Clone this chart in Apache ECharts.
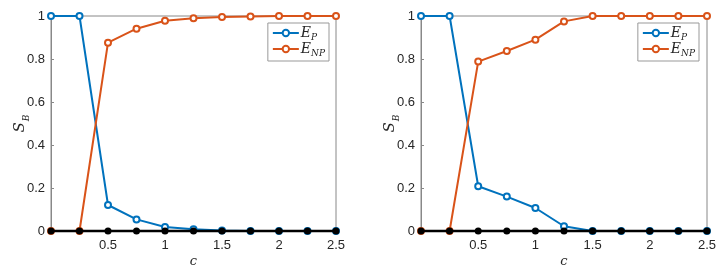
<!DOCTYPE html>
<html><head><meta charset="utf-8">
<script src="https://cdn.jsdelivr.net/npm/echarts@6/dist/echarts.min.js"></script>
<style>html,body{margin:0;padding:0;background:#fff}#c{width:721px;height:274px}</style>
</head><body><div id="c"></div>
<script>
const cValues = [0, 0.25, 0.5, 0.75, 1, 1.25, 1.5, 1.75, 2, 2.25, 2.5];
const xTicks = [0.5, 1, 1.5, 2, 2.5];
const yTicks = [0, 0.2, 0.4, 0.6, 0.8, 1];
const leftEP  = [1, 1, 0.121, 0.054, 0.019, 0.008, 0.002, 0, 0, 0, 0];
const leftENP = [0, 0, 0.876, 0.941, 0.978, 0.989, 0.995, 0.998, 1, 1, 1];
const rightEP  = [1, 1, 0.208, 0.16, 0.107, 0.022, 0, 0, 0, 0, 0];
const rightENP = [0, 0, 0.788, 0.837, 0.89, 0.975, 1, 1, 1, 1, 1];
const zeroLine = [0, 0, 0, 0, 0, 0, 0, 0, 0, 0, 0];

const BLUE = '#0072BD', ORANGE = '#D95319';
const tickFont = {color: '#262626', fontSize: 13, fontFamily: 'Liberation Sans, Arial, sans-serif'};
const pair = a => cValues.map((c, i) => [c, a[i]]);

function xAxis(gi) {
  return {
    type: 'value', gridIndex: gi, min: 0, max: 2.5, interval: 0.5,
    axisLine: {lineStyle: {color: '#888', width: 1}},
    axisTick: {inside: true, length: 3, lineStyle: {color: '#888'}},
    splitLine: {show: false},
    axisLabel: Object.assign({margin: 8, formatter: v => v === 0 ? '' : String(v)}, tickFont),
    name: '{c|c}', nameLocation: 'middle', nameGap: 24, nameMoveOverlap: false,
    nameTextStyle: {rich: {c: {fontFamily: 'DejaVu Serif', fontStyle: 'italic', fontSize: 13, color: '#262626'}}}
  };
}
function yAxis(gi) {
  return {
    type: 'value', gridIndex: gi, min: 0, max: 1, interval: 0.2,
    axisLine: {show: true, lineStyle: {color: '#888', width: 1}},
    axisTick: {show: true, inside: true, length: 3, lineStyle: {color: '#888'}},
    splitLine: {show: false},
    axisLabel: Object.assign({margin: 6, formatter: v => String(Math.round(v * 10) / 10)}, tickFont),
    name: '{s|S}{b|B}', nameLocation: 'middle', nameGap: 20, nameRotate: 90, nameMoveOverlap: false,
    nameTextStyle: {rich: {
      s: {fontFamily: 'DejaVu Serif', fontStyle: 'italic', fontSize: 15, color: '#262626', lineHeight: 18, verticalAlign: 'top'},
      b: {fontFamily: 'DejaVu Serif', fontStyle: 'italic', fontSize: 9, color: '#262626', lineHeight: 10, padding: [9, 0, 0, 1], verticalAlign: 'top'}
    }}
  };
}
const legendRich = {
  a: {fontFamily: 'DejaVu Serif', fontStyle: 'italic', fontSize: 14, color: '#262626', lineHeight: 14, verticalAlign: 'top'},
  b: {fontFamily: 'DejaVu Serif', fontStyle: 'italic', fontSize: 9, color: '#262626', lineHeight: 9, padding: [7, 0, 0, 0], verticalAlign: 'top'}
};
function legend(right) {
  return {
    orient: 'vertical', right: right, top: 23,
    data: ['EP', 'ENP'],
    backgroundColor: '#fff', borderColor: '#999', borderWidth: 1, borderRadius: 0,
    padding: [3, 4, 3, 4], itemGap: 0, itemWidth: 26, itemHeight: 8,
    formatter: n => n === 'EP' ? '{a|E}{b|P}' : '{a|E}{b|NP}',
    textStyle: {rich: legendRich, padding: [0, 0, 0, -3]}
  };
}
function series(gi, ep, enp) {
  const base = {type: 'line', xAxisIndex: gi, yAxisIndex: gi, animation: false, clip: false};
  return [
    Object.assign({}, base, {name: 'EP', data: pair(ep), color: BLUE, lineStyle: {width: 2, color: BLUE},
      symbol: 'emptyCircle', symbolSize: 6, itemStyle: {color: BLUE, borderColor: BLUE, borderWidth: 1.5}}),
    Object.assign({}, base, {name: 'ENP', data: pair(enp), color: ORANGE, lineStyle: {width: 2, color: ORANGE},
      symbol: 'emptyCircle', symbolSize: 6, itemStyle: {color: ORANGE, borderColor: ORANGE, borderWidth: 1.5}}),
    Object.assign({}, base, {name: 'zero', data: pair(zeroLine), color: '#000', lineStyle: {width: 2.5, color: '#000'},
      symbol: 'circle', symbolSize: 7, itemStyle: {color: '#000'}, z: 5})
  ];
}

const chart = echarts.init(document.getElementById('c'), null, {renderer: 'canvas'});
chart.setOption({
  backgroundColor: '#fff',
  animation: false,
  grid: [
    {left: 51, right: 385, top: 16, bottom: 43, show: true, borderColor: '#888', borderWidth: 1, backgroundColor: 'transparent'},
    {left: 421, right: 14, top: 16, bottom: 43, show: true, borderColor: '#888', borderWidth: 1, backgroundColor: 'transparent'}
  ],
  xAxis: [xAxis(0), xAxis(1)],
  yAxis: [yAxis(0), yAxis(1)],
  legend: [legend(392), legend(22)],
  series: [].concat(series(0, leftEP, leftENP), series(1, rightEP, rightENP))
});
</script></body></html>
